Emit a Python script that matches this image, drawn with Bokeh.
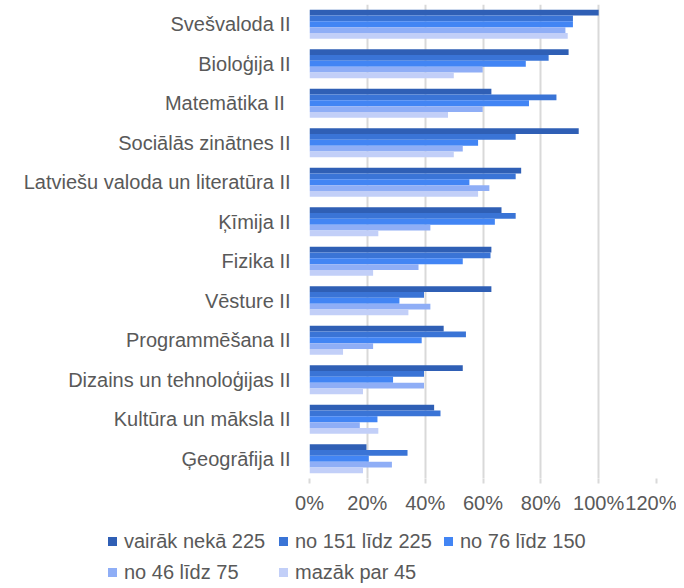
from bokeh.plotting import figure
from bokeh.models import (ColumnDataSource, FactorRange, Range1d, Div,
                          FixedTicker, NumeralTickFormatter)
from bokeh.transform import dodge
from bokeh.layouts import column
from bokeh.embed import file_html
from bokeh.resources import INLINE

categories = ["Svešvaloda II", "Bioloģija II", "Matemātika  II", "Sociālās zinātnes II",
              "Latviešu valoda un literatūra II", "Ķīmija II", "Fizika II", "Vēsture II",
              "Programmēšana II", "Dizains un tehnoloģijas II", "Kultūra un māksla II",
              "Ģeogrāfija II"]

series_names = ["vairāk nekā 225", "no 151 līdz 225", "no 76 līdz 150",
                "no 46 līdz 75", "mazāk par 45"]

vairak_225 = [100, 89.6, 62.9, 93.1, 73.2, 66.4, 62.9, 62.9, 46.4, 53.0, 43.1, 19.7]
no151_225 = [91.1, 82.7, 85.4, 71.3, 71.3, 71.3, 62.6, 39.6, 54.1, 39.6, 45.3, 33.9]
no76_150 = [91.1, 74.8, 75.9, 58.3, 55.3, 64.1, 53.0, 31.1, 38.8, 28.9, 23.5, 20.5]
no46_75 = [88.5, 59.9, 59.9, 53.0, 62.2, 41.8, 37.7, 41.8, 22.0, 39.6, 17.4, 28.5]
mazak_45 = [89.3, 49.9, 47.9, 49.9, 58.3, 23.8, 22.0, 34.2, 11.6, 18.5, 23.8, 18.5]

x_ticks = [0, 20, 40, 60, 80, 100, 120]

series_values = [vairak_225, no151_225, no76_150, no46_75, mazak_45]
colors = ["#2F5FB5", "#3A74D6", "#4285F4", "#8FAEF6", "#C2CFF8"]

data = {"cat": categories}
for i, vals in enumerate(series_values):
    data[f"s{i}"] = [v / 100 for v in vals]
source = ColumnDataSource(data)

FONT = "Liberation Sans"
TEXT = "#595959"
FS = "20px"

p = figure(width=676, height=516, output_backend="svg", toolbar_location=None,
           y_range=FactorRange(factors=categories[::-1]),
           x_range=Range1d(0, 1.2),
           min_border_left=309, min_border_right=20, min_border_top=4,
           min_border_bottom=35)
p.outline_line_color = None

bar_h = 0.148
offsets = [2 * bar_h, bar_h, 0, -bar_h, -2 * bar_h]
for i in range(5):
    p.hbar(y=dodge("cat", offsets[i], range=p.y_range), left=0, right=f"s{i}",
           height=bar_h, source=source, fill_color=colors[i], line_color=None)

p.xaxis.ticker = FixedTicker(ticks=[t / 100 for t in x_ticks])
p.xaxis.formatter = NumeralTickFormatter(format="0%")
p.xaxis.axis_line_color = None
p.xaxis.major_tick_line_color = "#D9D9D9"
p.xaxis.major_tick_line_width = 2
p.xaxis.major_tick_out = 5
p.xaxis.major_tick_in = 0
p.xaxis.minor_tick_line_color = None
p.xaxis.major_label_standoff = 8
p.xaxis.major_label_text_font = FONT
p.xaxis.major_label_text_font_size = FS
p.xaxis.major_label_text_color = TEXT

p.yaxis.axis_line_color = None
p.yaxis.major_tick_line_color = None
p.yaxis.major_tick_out = 0
p.yaxis.major_label_standoff = 19
p.yaxis.major_label_text_font = FONT
p.yaxis.major_label_text_font_size = FS
p.yaxis.major_label_text_color = TEXT

p.xgrid.grid_line_color = "#D9D9D9"
p.xgrid.grid_line_width = 2
p.ygrid.grid_line_color = None

# legend (HTML text, built from the series names and colours)
cells = []
for name, col in zip(series_names, colors):
    cells.append(
        f'<div style="white-space:nowrap;">'
        f'<span style="display:inline-block;width:9px;height:9px;background:{col};'
        f'margin-right:7px;vertical-align:middle;position:relative;top:-1px;"></span>'
        f'{name}</div>')
legend_html = (
    f'<div style="font-family:\'{FONT}\';font-size:{FS};color:{TEXT};line-height:22px;'
    f'display:grid;grid-template-columns:171px 165px auto;row-gap:9px;'
    f'padding-left:108px;padding-top:14px;">' + "".join(cells) + '</div>')
legend_div = Div(text=legend_html, width=676, height=64, margin=0)

layout = column(p, legend_div, spacing=0)
open("out.html", "w").write(file_html(layout, INLINE))
